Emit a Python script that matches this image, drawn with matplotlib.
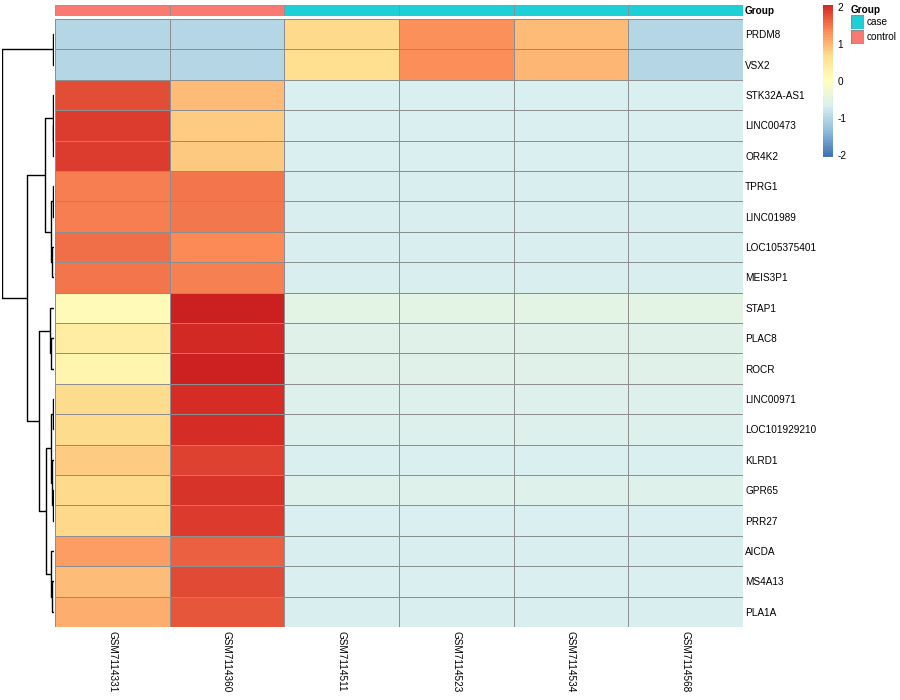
import numpy as np
import matplotlib
matplotlib.use("Agg")
import matplotlib.pyplot as plt
from matplotlib.colors import LinearSegmentedColormap, Normalize
from matplotlib.cm import ScalarMappable
from matplotlib.patches import Rectangle

plt.rcParams['font.family'] = ['Liberation Sans', 'DejaVu Sans']

# ---------------- data ----------------
samples = ["GSM7114331", "GSM7114360", "GSM7114511", "GSM7114523", "GSM7114534", "GSM7114568"]
groups = ["control", "control", "case", "case", "case", "case"]
genes = ["PRDM8", "VSX2", "STK32A-AS1", "LINC00473", "OR4K2", "TPRG1", "LINC01989",
         "LOC105375401", "MEIS3P1", "STAP1", "PLAC8", "ROCR", "LINC00971",
         "LOC101929210", "KLRD1", "GPR65", "PRR27", "AICDA", "MS4A13", "PLA1A"]
PRDM8 = [-1.00, -1.00, 0.72, 1.30, 0.97, -1.00]
VSX2 = [-1.00, -1.00, 0.66, 1.32, 0.99, -1.00]
STK32A_AS1 = [1.79, 0.97, -0.67, -0.67, -0.67, -0.67]
LINC00473 = [1.90, 0.83, -0.67, -0.67, -0.67, -0.67]
OR4K2 = [1.90, 0.84, -0.67, -0.67, -0.67, -0.67]
TPRG1 = [1.43, 1.51, -0.68, -0.68, -0.68, -0.68]
LINC01989 = [1.43, 1.49, -0.68, -0.68, -0.68, -0.68]
LOC105375401 = [1.56, 1.35, -0.68, -0.68, -0.68, -0.68]
MEIS3P1 = [1.50, 1.41, -0.68, -0.68, -0.68, -0.68]
STAP1 = [0.10, 2.17, -0.50, -0.50, -0.50, -0.50]
PLAC8 = [0.40, 2.08, -0.57, -0.57, -0.57, -0.57]
ROCR = [0.22, 2.15, -0.56, -0.56, -0.56, -0.56]
LINC00971 = [0.70, 2.02, -0.61, -0.61, -0.61, -0.61]
LOC101929210 = [0.70, 2.02, -0.61, -0.61, -0.61, -0.61]
KLRD1 = [0.83, 1.87, -0.67, -0.67, -0.67, -0.67]
GPR65 = [0.72, 1.97, -0.60, -0.60, -0.60, -0.60]
PRR27 = [0.73, 1.92, -0.66, -0.66, -0.66, -0.66]
AICDA = [1.20, 1.66, -0.68, -0.68, -0.68, -0.68]
MS4A13 = [0.94, 1.80, -0.67, -0.67, -0.67, -0.67]
PLA1A = [1.06, 1.72, -0.68, -0.68, -0.68, -0.68]
values = np.array([PRDM8, VSX2, STK32A_AS1, LINC00473, OR4K2, TPRG1, LINC01989,
                   LOC105375401, MEIS3P1, STAP1, PLAC8, ROCR, LINC00971,
                   LOC101929210, KLRD1, GPR65, PRR27, AICDA, MS4A13, PLA1A])

# row dendrogram: (merge height, left, right)
tree = (51.6,
        (0.7, "PRDM8", "VSX2"),
        (26.7,
         (8.7,
          (1.0, "STK32A-AS1", (0.5, "LINC00473", "OR4K2")),
          (3.3, (1.0, "TPRG1", "LINC01989"), (2.0, "LOC105375401", "MEIS3P1"))),
         (15.3,
          (4.3, "STAP1", (2.7, "PLAC8", "ROCR")),
          (7.7,
           (2.7, (1.0, "LINC00971", "LOC101929210"), (1.5, "KLRD1", (0.8, "GPR65", "PRR27"))),
           (3.3, "AICDA", (2.0, "MS4A13", "PLA1A"))))))

group_colors = {"case": "#1DCFD6", "control": "#F97A72"}

# ---------------- styling ----------------
W, H = 900, 700
def ax_px(x0, y0, x1, y1):
    return [x0 / W, 1 - y1 / H, (x1 - x0) / W, (y1 - y0) / H]

pal_vals = [-2.0, -1.333, -0.667, 0.0, 0.667, 1.333, 2.0, 2.3]
pal_cols = ["#4575B4", "#91BFDB", "#DAEFF0", "#FFFFBF", "#FEE090", "#FC8D59", "#D73027", "#C4151C"]
vmin, vmax = -2.0, 2.3
cmap = LinearSegmentedColormap.from_list(
    "rdylbu_ext", [((v - vmin) / (vmax - vmin), c) for v, c in zip(pal_vals, pal_cols)], N=256)
norm = Normalize(vmin=vmin, vmax=vmax)
border = "#8E8E8E"
lw = 0.6
fs = 7.2

fig = plt.figure(figsize=(9, 7), dpi=100)
fig.patch.set_facecolor("white")

nrow, ncol = values.shape
hx0, hy0, hx1, hy1 = 55, 19, 743, 627

# heatmap
ax = fig.add_axes(ax_px(hx0, hy0, hx1, hy1))
ax.pcolormesh(np.arange(ncol + 1), np.arange(nrow + 1), values, cmap=cmap, norm=norm,
              edgecolors=border, linewidth=lw)
ax.set_xlim(0, ncol)
ax.set_ylim(nrow, 0)
ax.set_xticks(np.arange(ncol) + 0.5)
ax.set_xticklabels(samples, rotation=-90, fontsize=fs, va="top", ha="center")
ax.set_yticks(np.arange(nrow) + 0.5)
ax.set_yticklabels(genes, fontsize=fs)
ax.yaxis.tick_right()
ax.tick_params(axis="y", length=0, pad=1.5)
ax.tick_params(axis="x", length=0, pad=3)
for s in ax.spines.values():
    s.set_visible(False)

# annotation bar
axa = fig.add_axes(ax_px(hx0, 5, hx1, 16))
for j, g in enumerate(groups):
    axa.add_patch(Rectangle((j, 0), 1, 1, facecolor=group_colors[g], edgecolor=border, linewidth=lw))
axa.set_xlim(0, ncol)
axa.set_ylim(0, 1)
axa.set_xticks([])
axa.set_yticks([0.5])
axa.set_yticklabels(["Group"], fontsize=fs, fontweight="bold")
axa.yaxis.tick_right()
axa.tick_params(length=0, pad=1.5)
for s in axa.spines.values():
    s.set_visible(False)

# dendrogram
axd = fig.add_axes(ax_px(2, hy0, 54, hy1))
pos = {g: i + 0.5 for i, g in enumerate(genes)}

def draw(node):
    if isinstance(node, str):
        return pos[node], 0.0
    h, l, r = node
    yl, hl = draw(l)
    yr, hr = draw(r)
    axd.plot([hl, h, h, hr], [yl, yl, yr, yr], color="black", linewidth=1.0, solid_capstyle="butt")
    return (yl + yr) / 2, h

draw(tree)
axd.set_xlim(tree[0] + 0.3, 0)
axd.set_ylim(nrow, 0)
axd.axis("off")

# colorbar
cax = fig.add_axes(ax_px(823, 5, 833, 157))
cb = fig.colorbar(ScalarMappable(norm=norm, cmap=cmap), cax=cax,
                  boundaries=np.linspace(-2.05, 2.05, 101))
cb.set_ticks([-2, -1, 0, 1, 2])
cb.set_ticklabels(["-2", "-1", "0", "1", "2"])
cb.outline.set_visible(False)
cax.tick_params(length=0, pad=3, labelsize=fs)

# legend
fig.text(851 / W, 1 - 10 / H, "Group", fontsize=fs, fontweight="bold", va="center", ha="left")
for k, name in enumerate(["case", "control"]):
    y0 = 15 + k * 15
    axl = fig.add_axes(ax_px(851, y0, 864, y0 + 14))
    axl.add_patch(Rectangle((0, 0), 1, 1, facecolor=group_colors[name], edgecolor=border, linewidth=1.0))
    axl.set_xlim(0, 1)
    axl.set_ylim(0, 1)
    axl.axis("off")
    fig.text(867 / W, 1 - (y0 + 7) / H, name, fontsize=fs, va="center", ha="left")

fig.savefig("out.png", dpi=100)
